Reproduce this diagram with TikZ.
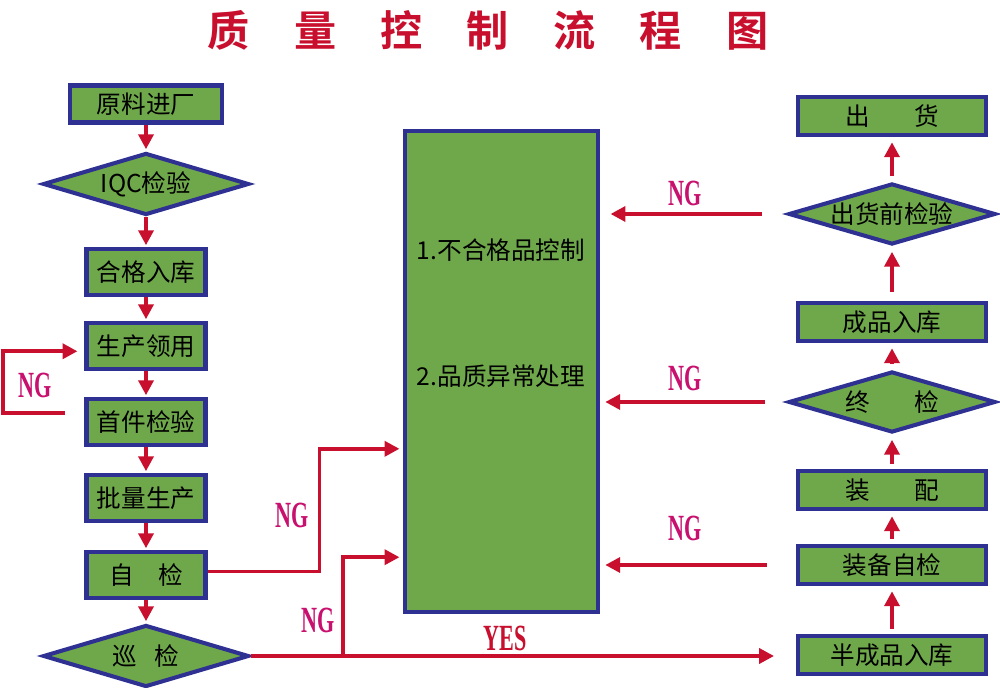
\documentclass[tikz,border=0pt]{standalone}
\usepackage{fontspec}
\setmainfont{Liberation Serif}
\newfontfamily\cjk{Noto Sans CJK SC}
\newfontfamily\cjkb{Noto Sans CJK SC Bold}
\usetikzlibrary{shapes.geometric,arrows.meta,calc}
\definecolor{boxgreen}{HTML}{6FA84B}
\definecolor{boxblue}{HTML}{2E3192}
\definecolor{arrred}{HTML}{C8102E}
\definecolor{ngpink}{HTML}{C8106E}
\tikzset{
  stepbox/.style={draw=boxblue, fill=boxgreen, line width=2.3pt, inner sep=0pt,
    font=\cjk\fontsize{14}{16}\selectfont},
  lbox/.style={stepbox, minimum width=2.38cm, minimum height=0.92cm},
  rbox/.style={stepbox, minimum width=3.76cm, minimum height=0.76cm},
  dia/.style={stepbox, diamond, aspect=3.3, minimum width=4.12cm, minimum height=1.24cm},
  flow/.style={draw=arrred, line width=2.2pt, -{Triangle[length=8.5pt,width=8.5pt]}},
  nglabel/.style={text=ngpink, font=\bfseries\fontsize{21}{21}\selectfont, inner sep=0pt},
  inbox/.style={font=\cjk\fontsize{14}{16}\selectfont, inner sep=0pt},
}
\newcommand{\narrow}[1]{\scalebox{0.6}[1]{#1}}
\begin{document}
\begin{tikzpicture}[x=0.02cm,y=-0.02cm]
\useasboundingbox[fill=white] (0,0) rectangle (1000,688);

% title
\node[text=arrred, font=\cjkb\fontsize{24}{24}\selectfont, inner sep=0pt] (title) at (488,30)
  {质\hspace{1.05em}量\hspace{1.05em}控\hspace{1.05em}制\hspace{1.05em}流\hspace{1.05em}程\hspace{1.05em}图};

% left column
\node[stepbox, minimum width=3.04cm, minimum height=0.74cm] (raw) at (146,104) {原料进厂};
\node[dia] (iqc) at (146,184) {IQC检验};
\node[lbox] (stock) at (146,272) {合格入库};
\node[lbox] (use) at (146,346) {生产领用};
\node[lbox] (first) at (146,422) {首件检验};
\node[lbox] (batch) at (146,498) {批量生产};
\node[lbox] (self) at (146,575) {自\hspace{1em}检};
\node[dia] (patrol) at (146,656) {巡\hspace{0.7em}检};

% central box
\node[stepbox, minimum width=3.86cm, minimum height=9.62cm] (ctrl) at (501.5,371.5) {};
\node[inbox] (t1) at (501,250) {1.不合格品控制};
\node[inbox] (t2) at (501,376) {2.品质异常处理};

% right column
\node[rbox] (ship) at (892,116) {出\hspace{1.8em}货};
\node[dia, minimum width=4.14cm, minimum height=1.22cm] (pre) at (892,214) {出货前检验};
\node[rbox] (fstock) at (892,322) {成品入库};
\node[dia, minimum width=4.14cm, minimum height=1.22cm] (final) at (892,402) {终\hspace{1.8em}检};
\node[rbox] (asm) at (892,490) {装\hspace{1.8em}配};
\node[rbox] (asmchk) at (892,565) {装备自检};
\node[rbox] (semi) at (892,655) {半成品入库};

% left column arrows
\draw[flow, shorten >=1pt] (raw.south) -- (iqc.north);
\draw[flow, shorten >=1pt] (iqc.south) -- (stock.north);
\draw[flow, shorten >=1pt] (stock.south) -- (use.north);
\draw[flow, shorten >=1pt] (use.south) -- (first.north);
\draw[flow, shorten >=1pt] (first.south) -- (batch.north);
\draw[flow, shorten >=1pt] (batch.south) -- (self.north);
\draw[flow, shorten >=1pt] (self.south) -- (patrol.north);

% loop NG
\draw[flow] ([xshift=-11pt,yshift=5pt]first.west) -- ++(-62,0) |- ([xshift=-4pt,yshift=-3pt]use.west);
\node[nglabel] (ng1) at (35,385) {\narrow{NG}};

% self check NG
\draw[flow] ([yshift=2pt]self.east) -- ++(112,0) |- ([xshift=-2pt,yshift=-44pt]ctrl.west);
\node[nglabel] (ng2) at (292,515) {\narrow{NG}};

% patrol -> semi (YES), and NG branch
\draw[flow, shorten >=12.5pt] (patrol.east) -- (patrol.east -| semi.west);
\coordinate (j) at (343,656);
\draw[flow] (j) |- ([xshift=-2pt,yshift=-105.7pt]ctrl.west);
\node[nglabel] (ng3) at (318,620) {\narrow{NG}};
\node[nglabel, text=arrred] (yes) at (505,638) {\narrow{YES}};

% right column arrows
\draw[flow, shorten <=3pt, shorten >=3pt] (semi.north) -- (asmchk.south);
\draw[flow, shorten <=3pt, shorten >=3pt] (asmchk.north) -- (asm.south);
\draw[flow, shorten <=3pt, shorten >=3pt] (asm.north) -- (final.south);
\draw[flow, shorten <=3pt, shorten >=3pt] (final.north) -- (fstock.south);
\draw[flow, shorten <=5pt, shorten >=3pt] (fstock.north) -- (pre.south);
\draw[flow, shorten <=3pt, shorten >=3pt] (pre.north) -- (ship.south);

% right NG arrows
\draw[flow, shorten <=14pt, shorten >=6pt] (pre.west) -- (pre.west -| ctrl.east);
\draw[flow, shorten <=12pt, shorten >=3pt] (final.west) -- (final.west -| ctrl.east);
\draw[flow, shorten <=16.5pt, shorten >=3pt] (asmchk.west) -- (asmchk.west -| ctrl.east);
\node[nglabel] (ng4) at (685,193) {\narrow{NG}};
\node[nglabel] (ng5) at (685,378) {\narrow{NG}};
\node[nglabel] (ng6) at (685,528) {\narrow{NG}};
\end{tikzpicture}
\end{document}
